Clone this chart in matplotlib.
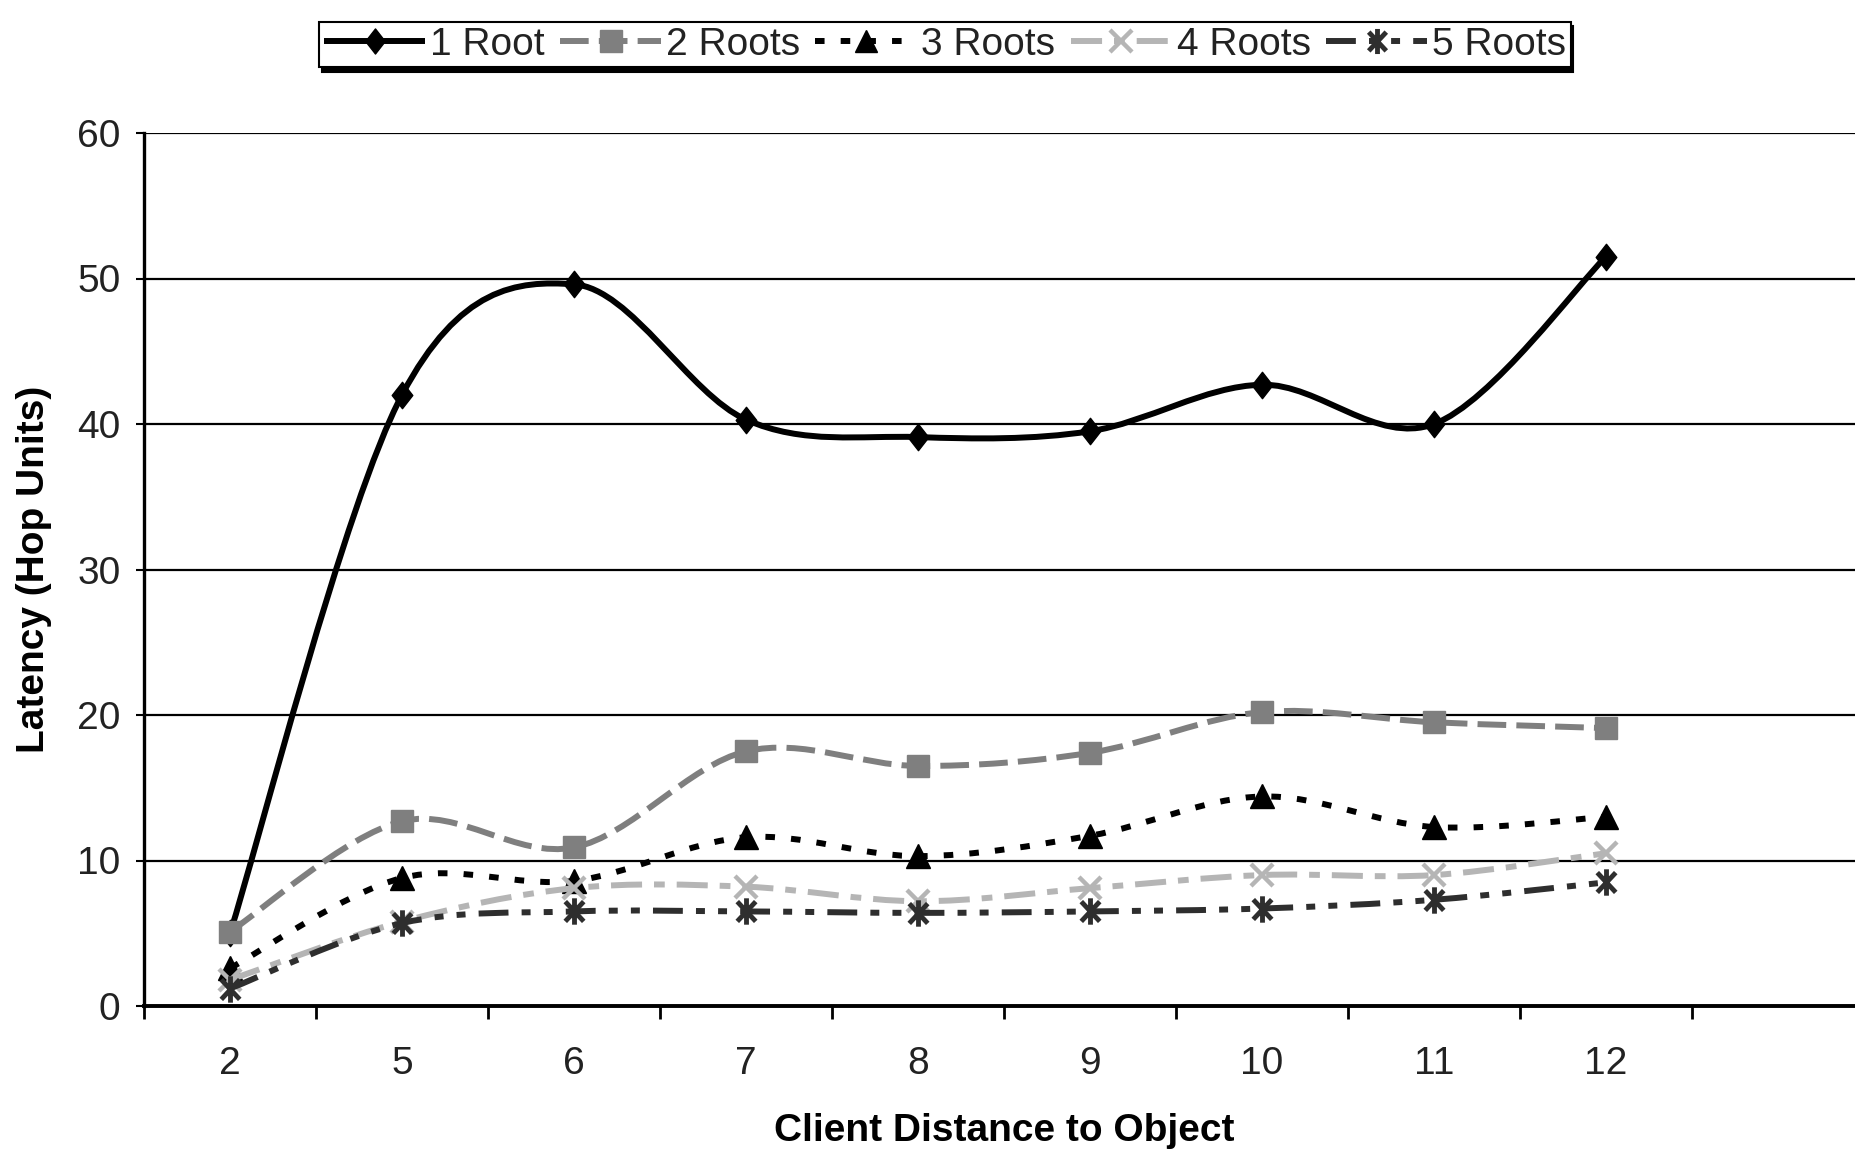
import matplotlib
matplotlib.use("Agg")
import matplotlib.pyplot as plt
from matplotlib.path import Path
from matplotlib.patches import PathPatch
from matplotlib.lines import Line2D

plt.rcParams['font.family'] = ['Liberation Sans', 'DejaVu Sans']

categories = ["2", "5", "6", "7", "8", "9", "10", "11", "12", ""]
series_names = ["1 Root", "2 Roots", "3 Roots", "4 Roots", "5 Roots"]
root1 = [5.0, 42.0, 49.6, 40.3, 39.1, 39.5, 42.7, 40.0, 51.5]
root2 = [5.1, 12.7, 10.9, 17.5, 16.5, 17.4, 20.2, 19.5, 19.1]
root3 = [2.6, 8.8, 8.6, 11.6, 10.3, 11.7, 14.4, 12.3, 13.0]
root4 = [1.8, 5.8, 8.1, 8.2, 7.2, 8.1, 9.0, 9.0, 10.5]
root5 = [1.2, 5.7, 6.5, 6.5, 6.4, 6.5, 6.7, 7.3, 8.5]
y_ticks = [0, 10, 20, 30, 40, 50, 60]

# asterisk marker: X plus vertical bar
star_path = Path([(0, -1), (0, 1), (-0.7, -0.75), (0.7, 0.75), (-0.7, 0.75), (0.7, -0.75)],
                 [Path.MOVETO, Path.LINETO, Path.MOVETO, Path.LINETO, Path.MOVETO, Path.LINETO])
diamond_path = Path([(0, 1), (0.78, 0), (0, -1), (-0.78, 0), (0, 1)],
                    [Path.MOVETO, Path.LINETO, Path.LINETO, Path.LINETO, Path.CLOSEPOLY])

styles = [
    dict(color='black', ls=(0, ()), marker=diamond_path, ms=19, mfc='black', mec='black', mew=1),
    dict(color='#7f7f7f', ls=(0, (4.8, 1.7)), marker='s', ms=16, mfc='#7f7f7f', mec='#7f7f7f', mew=1),
    dict(color='black', ls=(0, (1.6, 2.7)), marker='^', ms=17, mfc='black', mec='black', mew=1),
    dict(color='#b5b5b5', ls=(0, (5.2, 2.0, 1.8, 2.0)), marker='x', ms=16, mfc='none', mec='#b5b5b5', mew=3.2),
    dict(color='#2e2e2e', ls=(0, (5.0, 2.2, 1.5, 2.2, 1.5, 2.2)), marker=star_path, ms=19, mfc='none',
         mec='#2e2e2e', mew=3.5),
]
all_series = [root1, root2, root3, root4, root5]


def smooth_path(xs, ys):
    n = len(xs)
    verts = [(xs[0], ys[0])]
    codes = [Path.MOVETO]
    for i in range(n - 1):
        a = i - 1 if i > 0 else i
        d = i + 2 if i + 2 < n else i + 1
        c1 = (xs[i] + (xs[i + 1] - xs[a]) / 6.0, ys[i] + (ys[i + 1] - ys[a]) / 6.0)
        c2 = (xs[i + 1] - (xs[d] - xs[i]) / 6.0, ys[i + 1] - (ys[d] - ys[i]) / 6.0)
        verts += [c1, c2, (xs[i + 1], ys[i + 1])]
        codes += [Path.CURVE4, Path.CURVE4, Path.CURVE4]
    return Path(verts, codes)


W, H = 1856, 1150
fig = plt.figure(figsize=(W / 100, H / 100), dpi=100)
left = 144 / W
bottom = (H - 1006) / H
top = (H - 133) / H
right = 1864 / W
ax = fig.add_axes([left, bottom, right - left, top - bottom])

xpos = list(range(len(categories)))
lw = 4.3
handles = []
for k, (vals, st, name) in enumerate(zip(all_series, styles, series_names)):
    xs = xpos[:len(vals)]
    patch = PathPatch(smooth_path(xs, vals), fill=False, edgecolor=st['color'], lw=lw,
                      linestyle=st['ls'], capstyle='butt', joinstyle='round', zorder=3 + k)
    ax.add_patch(patch)
    ax.plot(xs, vals, linestyle='none', marker=st['marker'], ms=st['ms'], mfc=st['mfc'],
            mec=st['mec'], mew=st['mew'], zorder=3.5 + k)
    handles.append(Line2D([], [], color=st['color'], lw=lw, linestyle=st['ls'],
                          dash_capstyle='butt', marker=st['marker'], ms=st['ms'] * 0.95,
                          mfc=st['mfc'], mec=st['mec'], mew=st['mew']))

ax.set_xlim(-0.5, len(categories) - 0.5)
ax.set_ylim(0, 60)

ax.set_yticks(y_ticks)
ax.yaxis.grid(True, color='black', lw=1.6)
ax.set_axisbelow(True)

for s in ['top', 'right']:
    ax.spines[s].set_visible(False)
ax.spines['left'].set_linewidth(2.4)
ax.spines['bottom'].set_linewidth(2.8)

ax.tick_params(axis='y', which='major', direction='out', length=6, width=1.5,
               labelsize=28, pad=11, colors='black')
ax.set_yticklabels([str(v) for v in y_ticks], color='#222222')

ax.set_xticks([i - 0.5 for i in range(len(categories) + 1)])
ax.set_xticklabels([])
ax.tick_params(axis='x', which='major', direction='out', length=9, width=2)
ax.set_xticks(xpos, minor=True)
ax.set_xticklabels(categories, minor=True)
ax.tick_params(axis='x', which='minor', length=0, labelsize=28, pad=29, labelcolor='#222222')

ax.set_xlabel("Client Distance to Object", fontsize=28, fontweight='bold', labelpad=22)
ax.set_ylabel("Latency (Hop Units)", fontsize=28, fontweight='bold')
ax.yaxis.set_label_coords(-(144 - 52) / (1864 - 144), 0.5)

leg = fig.legend(handles, series_names, loc='upper center', bbox_to_anchor=(945 / W, 1 - 22 / H),
                 ncol=5, frameon=True, fancybox=False, fontsize=28, handlelength=2.6,
                 handletextpad=0.12, columnspacing=0.4, numpoints=1, borderpad=0.12,
                 borderaxespad=0.0, shadow={'color': 'black', 'alpha': 1.0, 'ox': 2, 'oy': -3})
leg.get_frame().set_edgecolor('black')
leg.get_frame().set_linewidth(1.5)
for t in leg.get_texts():
    t.set_color('#222222')

fig.savefig("out.png", dpi=100)
